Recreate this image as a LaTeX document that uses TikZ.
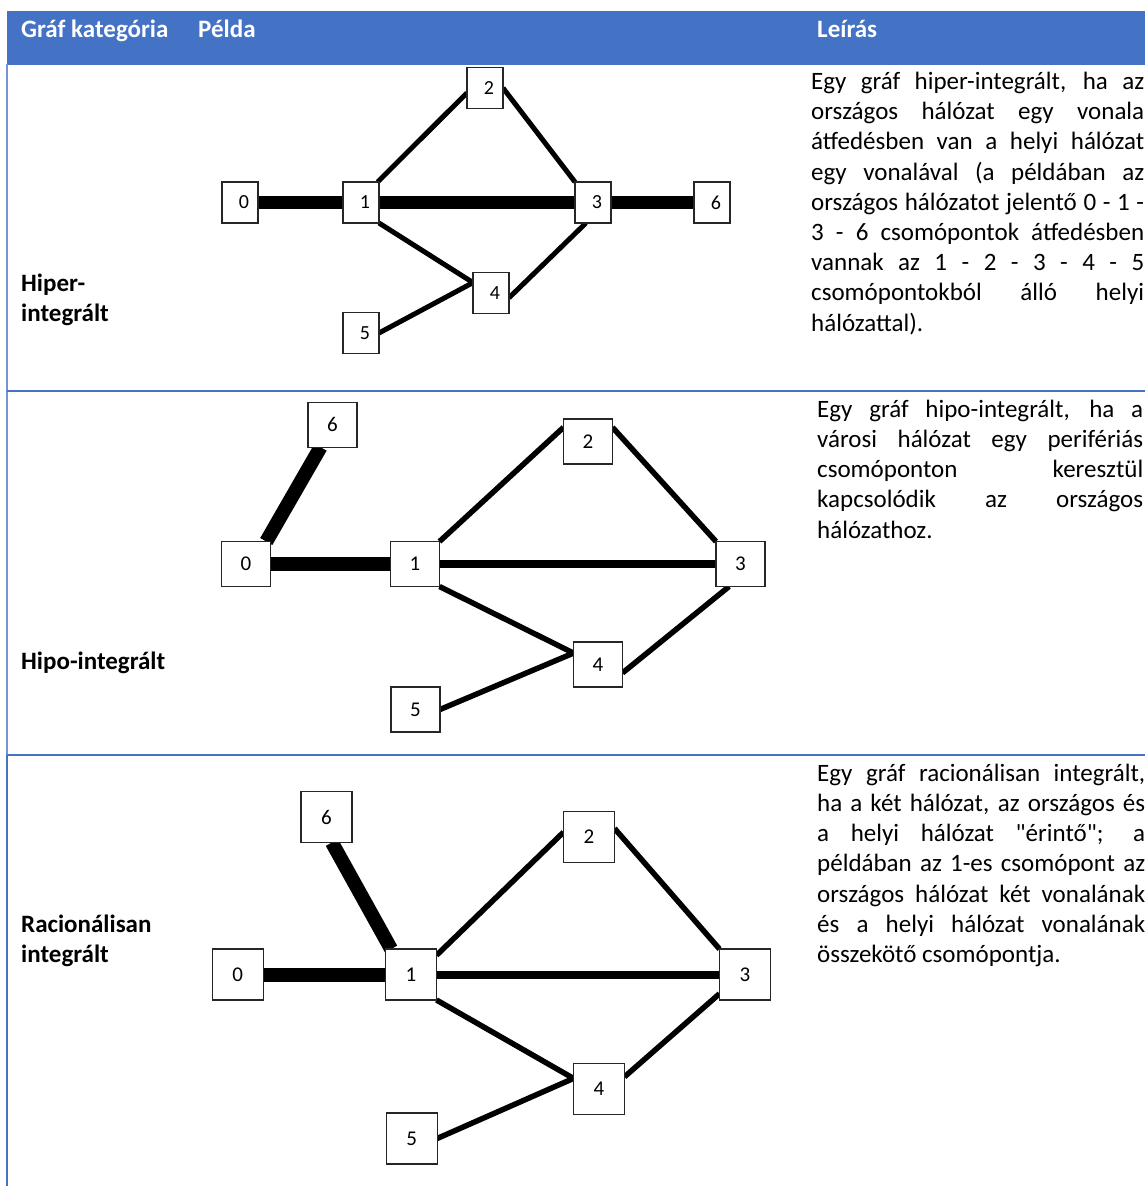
\documentclass[tikz,border=0pt]{standalone}
\usepackage{fontspec}
\setmainfont{Carlito}
\usepackage{tikz}
\usepackage{tkz-graph}
\usetikzlibrary{backgrounds}

\definecolor{fejkek}{HTML}{4472C4}
\newlength{\sorhossz}
\newcommand{\sor}[1]{\makebox[\sorhossz][s]{#1}}
\newcommand{\kiscsucs}[1]{\mbox{\kern8pt\fontsize{20}{20}\selectfont #1}}
\newcommand{\csucs}[1]{\mbox{\fontsize{21}{21}\selectfont #1}}

\tikzset{
  fejszoveg/.style={anchor=base west, text=white, inner sep=0pt, font=\fontsize{25}{30.2}\selectfont\bfseries},
  kategoria/.style={anchor=north west, align=left, inner sep=0pt, font=\fontsize{25}{30.2}\selectfont\bfseries},
  leiras/.style={anchor=north west, align=left, inner sep=0pt, font=\fontsize{25}{30.2}\selectfont},
  racsvonal/.style={draw=fejkek, line width=2pt}
}

\begin{document}
\begin{tikzpicture}[x=1pt,y=-1pt]
            \useasboundingbox (0,0) rectangle (1145,1186);
            \fill[fejkek] (7,11) rectangle (1145,64.5);
            \node[fejszoveg] (fejkat) at (21,37) {Gráf kategória};
            \node[fejszoveg] (fejpelda) at (198,37) {Példa};
            \node[fejszoveg] (fejleiras) at (817,37) {Leírás};

            \draw[racsvonal, draw=fejkek!75, line width=1.3pt] (7,64) -- (7,754.5);
            \draw[racsvonal] (7,754.5) -- (7,1186);
            \draw[racsvonal] (7,391) -- (1145,391);
            \draw[racsvonal] (7,754.5) -- (1145,754.5);

            \node[kategoria] (kat1) at (21,269.9) {\strut Hiper-\\integrált};
            \node[kategoria] (kat2) at (21,647.9) {\strut Hipo-integrált};
            \node[kategoria] (kat3) at (21,910.9) {\strut Racionálisan\\integrált};

            \setlength{\sorhossz}{333pt}
            \node[leiras] (leiras1) at (811,68.2) {\sor{\strut Egy gráf hiper-integrált, ha az}\\
               \sor{országos hálózat egy vonala}\\
               \sor{átfedésben van a helyi hálózat}\\
               \sor{egy vonalával (a példában az}\\
               \sor{országos hálózatot jelentő 0 - 1 -}\\
               \sor{3 - 6 csomópontok átfedésben}\\
               \sor{vannak az 1 - 2 - 3 - 4 - 5}\\
               \sor{csomópontokból álló helyi}\\
               hálózattal).};
            \setlength{\sorhossz}{326pt}
            \node[leiras] (leiras2) at (817,395.9) {\sor{\strut Egy gráf hipo-integrált, ha a}\\
               \sor{városi hálózat egy perifériás}\\
               \sor{csomóponton keresztül}\\
               \sor{kapcsolódik az országos}\\
               hálózathoz.};
            \setlength{\sorhossz}{328pt}
            \node[leiras] (leiras3) at (817,759.9) {\sor{\strut Egy gráf racionálisan integrált,}\\
               \sor{ha a két hálózat, az országos és}\\
               \sor{a helyi hálózat \textquotedbl érintő\textquotedbl; a}\\
               \sor{példában az 1-es csomópont az}\\
               \sor{országos hálózat két vonalának}\\
               \sor{és a helyi hálózat vonalának}\\
               összekötő csomópontja.};

            \GraphInit[vstyle=Normal];

            \tikzset{VertexStyle/.style={draw=black!85, rectangle, fill=white, line width=1.2pt, inner sep=0pt,
               minimum width=36pt, minimum height=41pt}};
            \Vertex[x=240,y=202.5,L=\kiscsucs{0}]{h0};
            \Vertex[x=361,y=202.5,L=\kiscsucs{1}]{h1};
            \Vertex[x=485,y=88,L=\kiscsucs{2}]{h2};
            \Vertex[x=593,y=202.5,L=\kiscsucs{3}]{h3};
            \Vertex[x=491,y=293,L=\kiscsucs{4}]{h4};
            \Vertex[x=361,y=333,L=\kiscsucs{5}]{h5};
            \Vertex[x=712,y=202.5,L=\kiscsucs{6}]{h6};

            \tikzset{VertexStyle/.append style={minimum width=49pt, minimum height=45pt}};
            \Vertex[x=246,y=564,L=\csucs{0}]{p0};
            \Vertex[x=415,y=564,L=\csucs{1}]{p1};
            \Vertex[x=588,y=441.5,L=\csucs{2}]{p2};
            \Vertex[x=740.5,y=564,L=\csucs{3}]{p3};
            \Vertex[x=598,y=664.5,L=\csucs{4}]{p4};
            \Vertex[x=415.5,y=709.5,L=\csucs{5}]{p5};
            \Vertex[x=332.5,y=424.7,L=\csucs{6}]{p6};

            \tikzset{VertexStyle/.append style={minimum width=51pt, minimum height=51pt}};
            \Vertex[x=237.6,y=974.5,L=\csucs{0}]{r0};
            \Vertex[x=411,y=974.5,L=\csucs{1}]{r1};
            \Vertex[x=589,y=836.7,L=\csucs{2}]{r2};
            \Vertex[x=745,y=974.5,L=\csucs{3}]{r3};
            \Vertex[x=599,y=1088.7,L=\csucs{4}]{r4};
            \Vertex[x=411.6,y=1138.5,L=\csucs{5}]{r5};
            \Vertex[x=326.5,y=817,L=\csucs{6}]{r6};

            \begin{scope}[on background layer]
            \tikzset{EdgeStyle/.style={black, line width=13pt}};
            \Edge(h0)(h1);
            \Edge(h1)(h3);
            \Edge(h3)(h6);

            \tikzset{EdgeStyle/.style={black, line width=5pt}};
            \Edge(h1.51)(h2.195);
            \Edge(h2.east)(h3.north west);
            \Edge(h1.south east)(h4.150);
            \Edge(h5.east)(h4.150);
            \Edge(h4.-15)(h3.-109);

            \tikzset{EdgeStyle/.style={black, line width=14pt}};
            \Edge(p6.-118)(p0.48);
            \Edge(p0)(p1);
            \Edge(r0)(r1);
            \Edge(r6.-78)(r1.128);

            \tikzset{EdgeStyle/.style={black, line width=8pt}};
            \Edge(p1)(p3);
            \Edge(r1)(r3);

            \tikzset{EdgeStyle/.style={black, line width=5.5pt}};
            \Edge(p1.north east)(p2.150);
            \Edge(p2.30)(p3.north west);
            \Edge(p1.south east)(p4.155);
            \Edge(p5.east)(p4.155);
            \Edge(p4.-19)(p3.-117);
            \Edge(r1.37)(r2.170);
            \Edge(r2.18)(r3.north west);
            \Edge(r1.south east)(r4.158);
            \Edge(r5.east)(r4.158);
            \Edge(r4.25)(r3.-143);
            \end{scope}
\end{tikzpicture}
\end{document}
